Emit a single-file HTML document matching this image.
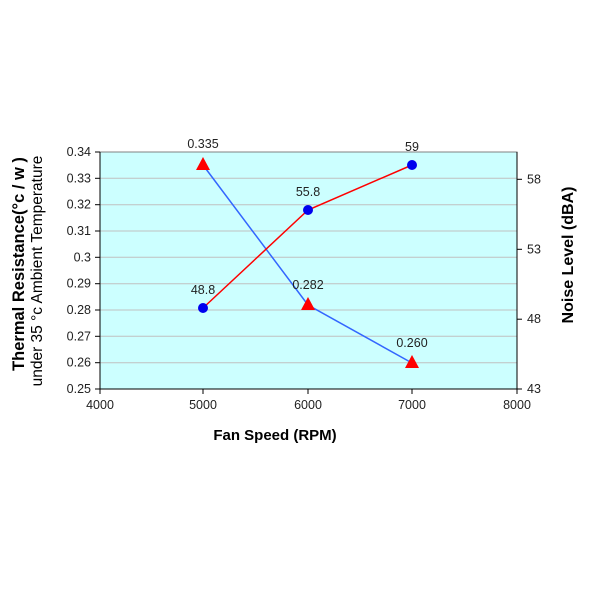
<!DOCTYPE html>
<html><head><style>body{margin:0;background:#fff}</style></head><body>
<svg width="600" height="600" xmlns="http://www.w3.org/2000/svg" font-family="Liberation Sans, Arial, sans-serif">
<rect x="100" y="152" width="417" height="237" fill="#ccffff"/>
<g stroke="#c0c0c0" stroke-width="1">
<line x1="100" x2="517" y1="178.3" y2="178.3"/><line x1="100" x2="517" y1="204.7" y2="204.7"/>
<line x1="100" x2="517" y1="231" y2="231"/><line x1="100" x2="517" y1="257.3" y2="257.3"/>
<line x1="100" x2="517" y1="283.7" y2="283.7"/><line x1="100" x2="517" y1="310" y2="310"/>
<line x1="100" x2="517" y1="336.3" y2="336.3"/><line x1="100" x2="517" y1="362.7" y2="362.7"/>
</g>
<rect x="100" y="152" width="417" height="237" fill="none" stroke="#808080"/>
<g stroke="#000" stroke-width="1">
<line x1="100" x2="100" y1="152" y2="389"/><line x1="517" x2="517" y1="152" y2="389"/>
<line x1="100" x2="517" y1="389" y2="389"/>
<line x1="95" x2="100" y1="152" y2="152"/><line x1="95" x2="100" y1="178.3" y2="178.3"/><line x1="95" x2="100" y1="204.7" y2="204.7"/><line x1="95" x2="100" y1="231" y2="231"/><line x1="95" x2="100" y1="257.3" y2="257.3"/><line x1="95" x2="100" y1="283.7" y2="283.7"/><line x1="95" x2="100" y1="310" y2="310"/><line x1="95" x2="100" y1="336.3" y2="336.3"/><line x1="95" x2="100" y1="362.7" y2="362.7"/><line x1="95" x2="100" y1="389" y2="389"/>
<line x1="517" x2="522" y1="179.3" y2="179.3"/><line x1="517" x2="522" y1="249.3" y2="249.3"/><line x1="517" x2="522" y1="319.2" y2="319.2"/><line x1="517" x2="522" y1="389" y2="389"/>
<line x1="100" x2="100" y1="389" y2="394"/><line x1="203" x2="203" y1="389" y2="394"/><line x1="308" x2="308" y1="389" y2="394"/><line x1="412" x2="412" y1="389" y2="394"/><line x1="517" x2="517" y1="389" y2="394"/>
</g>
<g font-size="12.5" fill="#222" text-anchor="end">
<text x="91" y="156">0.34</text><text x="91" y="182.3">0.33</text><text x="91" y="208.7">0.32</text><text x="91" y="235">0.31</text><text x="91" y="261.3">0.3</text><text x="91" y="287.7">0.29</text><text x="91" y="314">0.28</text><text x="91" y="340.3">0.27</text><text x="91" y="366.7">0.26</text><text x="91" y="393">0.25</text>
</g>
<g font-size="12.5" fill="#222">
<text x="527" y="183.3">58</text><text x="527" y="253.3">53</text><text x="527" y="323.2">48</text><text x="527" y="393">43</text>
</g>
<g font-size="12.5" fill="#222" text-anchor="middle">
<text x="100" y="409">4000</text><text x="203" y="409">5000</text><text x="308" y="409">6000</text><text x="412" y="409">7000</text><text x="517" y="409">8000</text>
</g>
<text x="275" y="440" font-size="15" font-weight="bold" text-anchor="middle">Fan Speed (RPM)</text>
<text transform="translate(24,264) rotate(-90)" font-size="16.5" font-weight="bold" text-anchor="middle">Thermal Resistance(°c / w )</text>
<text transform="translate(42,271) rotate(-90)" font-size="15.5" text-anchor="middle">under 35 °c Ambient  Temperature</text>
<text transform="translate(573,255) rotate(-90)" font-size="16" font-weight="bold" text-anchor="middle">Noise Level (dBA)</text>
<polyline points="203,165 308,305 412,363" fill="none" stroke="#3366ff" stroke-width="1.5"/>
<polyline points="203,308 308,210 412,165" fill="none" stroke="#ff0000" stroke-width="1.5"/>
<g fill="#ff0000"><polygon points="203,157 196,170 210,170"/><polygon points="308,297 301,310 315,310"/><polygon points="412,355 405,368 419,368"/></g>
<g fill="#0000ee"><circle cx="203" cy="308" r="5"/><circle cx="308" cy="210" r="5"/><circle cx="412" cy="165" r="5"/></g>
<g font-size="12.5" fill="#222" text-anchor="middle">
<text x="203" y="148">0.335</text><text x="308" y="289">0.282</text><text x="412" y="347">0.260</text>
<text x="203" y="294">48.8</text><text x="308" y="196">55.8</text><text x="412" y="151">59</text>
</g>
</svg>
</body></html>
